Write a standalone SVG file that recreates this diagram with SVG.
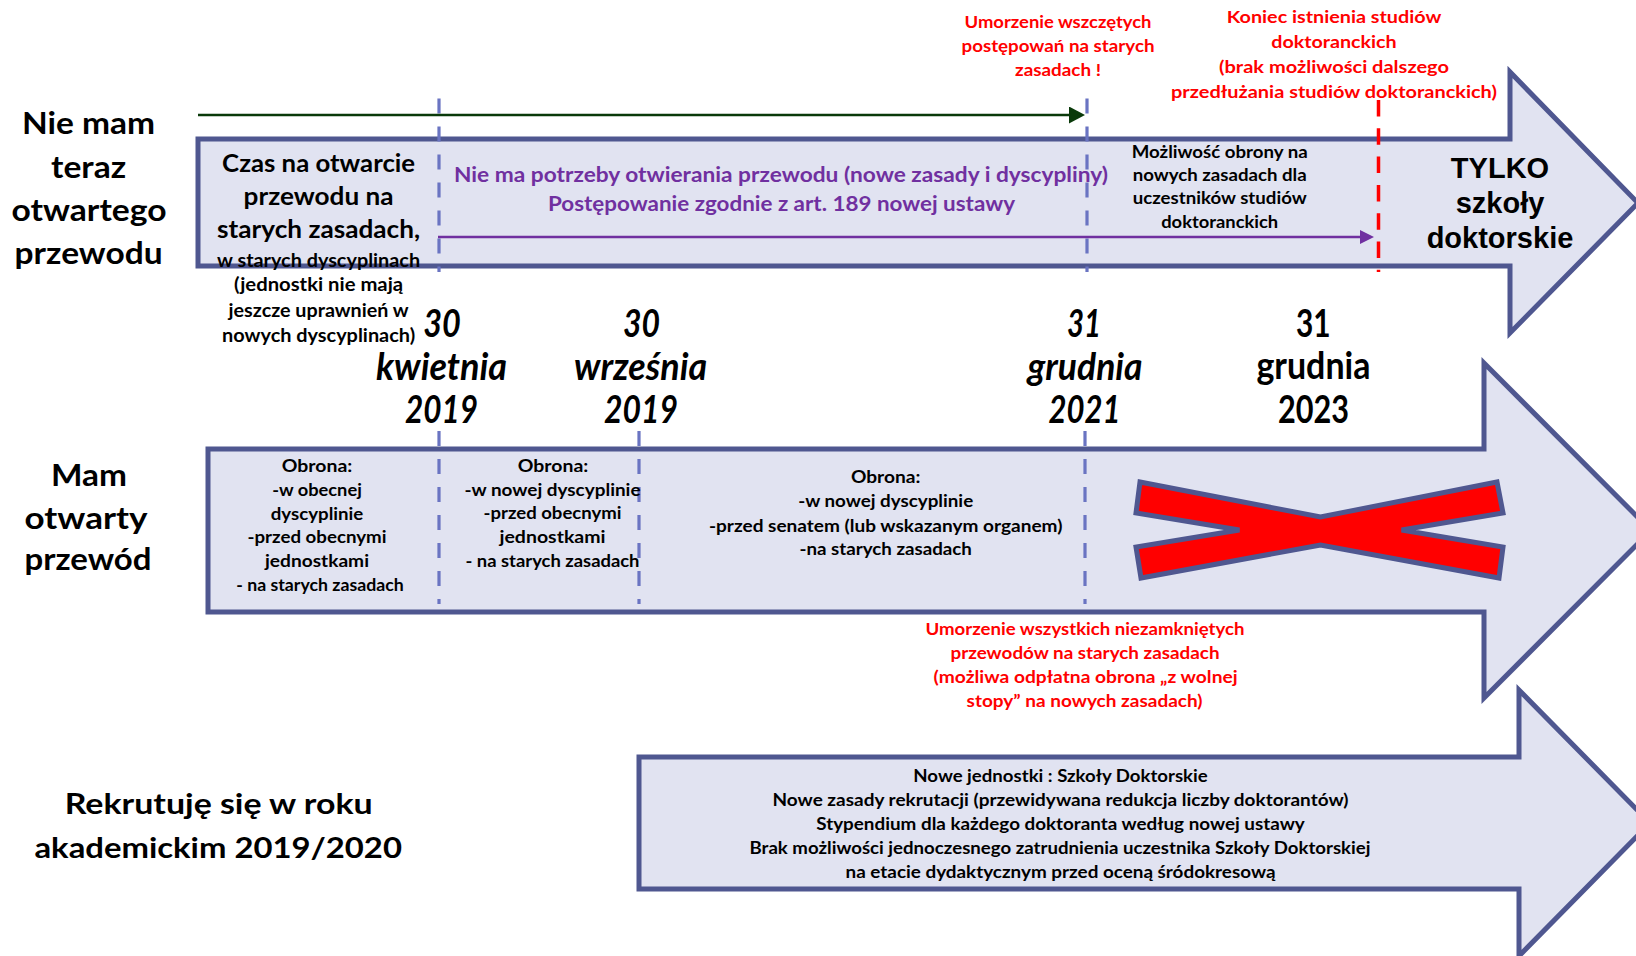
<svg xmlns="http://www.w3.org/2000/svg" width="1636" height="956" viewBox="0 0 1636 956">
<style>
.arrow{fill:#E1E3F1;stroke:#4F5790;stroke-width:5;stroke-linejoin:miter}
.dash{stroke:#6A74C2;stroke-width:3.2;stroke-dasharray:15 13;fill:none}
.rdash{stroke:#FF0000;stroke-width:3.5;stroke-dasharray:16.5 11.8;fill:none}
.t{font-family:Lato,"Open Sans","Liberation Sans",sans-serif;font-weight:700;text-anchor:middle;fill:#000}
.lbl{font-size:31px}
.czas{font-size:24px}
.sm{font-size:19px}
.pur{font-size:20px;fill:#7030A0}
.mo{font-size:16.5px}
.red{font-size:17.5px;fill:#FF0000}
.date{font-size:38px}
.it{font-style:italic}
.ob{font-size:16.5px}
.tylko{font-family:"Liberation Sans",Arial,sans-serif;font-weight:700;font-size:29px;text-anchor:middle;fill:#000}
</style>
<defs>
<marker id="mGreen" markerUnits="userSpaceOnUse" markerWidth="16" markerHeight="17" refX="6" refY="8.5" orient="auto"><path d="M0,0 L16,8.5 L0,17 Z" fill="#0A3A0A"/></marker>
<marker id="mPurple" markerUnits="userSpaceOnUse" markerWidth="14" markerHeight="14" refX="4" refY="7" orient="auto"><path d="M0,0 L14,7 L0,14 Z" fill="#7030A0"/></marker>
</defs>

<g id="arrow-row1">
<path class="arrow" d="M198,139 H1510 V72 L1638,203 L1510,333 V266 H198 Z"/>
</g>
<g id="arrow-row2">
<path class="arrow" d="M208,449 H1484 V363 L1651,530.5 L1484,698 V612 H208 Z"/>
</g>
<g id="arrow-row3">
<path class="arrow" d="M639,757 H1519 V690 L1650,823 L1519,956 V889 H639 Z"/>
</g>

<g id="timeline-markers">
<line class="dash" x1="439" y1="98.5" x2="439" y2="272"/>
<line class="dash" x1="1087" y1="98.5" x2="1087" y2="272"/>
<line class="rdash" x1="1378.5" y1="100" x2="1378.5" y2="272"/>
<line class="dash" x1="439" y1="431" x2="439" y2="604"/>
<line class="dash" x1="639" y1="431" x2="639" y2="604"/>
<line class="dash" x1="1085" y1="431" x2="1085" y2="604"/>
</g>

<g id="connectors">
<line x1="198" y1="115" x2="1075" y2="115" stroke="#0A3A0A" stroke-width="2.6" marker-end="url(#mGreen)"/>
<line x1="438" y1="237" x2="1364" y2="237" stroke="#7030A0" stroke-width="2.6" marker-end="url(#mPurple)"/>
</g>

<g id="cross">
<polygon points="1140,482 1320.5,517 1497,482 1503,513 1401.6,530 1503,547 1499,578 1320.5,545 1141,578 1136,547 1239.4,530 1136,513" fill="#FF0000" stroke="#4F5790" stroke-width="5" stroke-linejoin="miter"/>
</g>

<g id="label-nie-mam">
<text class="t lbl" x="88.6" y="134" textLength="133" lengthAdjust="spacingAndGlyphs">Nie mam</text>
<text class="t lbl" x="88.6" y="177.5" textLength="75" lengthAdjust="spacingAndGlyphs">teraz</text>
<text class="t lbl" x="89" y="221" textLength="155" lengthAdjust="spacingAndGlyphs">otwartego</text>
<text class="t lbl" x="88.6" y="264" textLength="148" lengthAdjust="spacingAndGlyphs">przewodu</text>
</g>

<g id="czas-na-otwarcie">
<text class="t czas" x="318.6" y="172" textLength="193" lengthAdjust="spacingAndGlyphs">Czas na otwarcie</text>
<text class="t czas" x="318.6" y="205" textLength="150" lengthAdjust="spacingAndGlyphs">przewodu na</text>
<text class="t czas" x="318.6" y="238" textLength="203" lengthAdjust="spacingAndGlyphs">starych zasadach,</text>
<text class="t sm" x="318.6" y="267" textLength="203" lengthAdjust="spacingAndGlyphs">w starych dyscyplinach</text>
<text class="t sm" x="318.6" y="291" textLength="169" lengthAdjust="spacingAndGlyphs">(jednostki nie mają</text>
<text class="t sm" x="318.6" y="317" textLength="180" lengthAdjust="spacingAndGlyphs">jeszcze uprawnień w</text>
<text class="t sm" x="318.6" y="342" textLength="193" lengthAdjust="spacingAndGlyphs">nowych dyscyplinach)</text>
</g>

<g id="nie-ma-potrzeby">
<text class="t pur" x="781" y="182" textLength="654" lengthAdjust="spacingAndGlyphs">Nie ma potrzeby otwierania przewodu (nowe zasady i dyscypliny)</text>
<text class="t pur" x="781.5" y="211" textLength="467" lengthAdjust="spacingAndGlyphs">Postępowanie zgodnie z art. 189 nowej ustawy</text>
</g>

<g id="mozliwosc-obrony">
<text class="t mo" x="1219.7" y="157.5" textLength="176" lengthAdjust="spacingAndGlyphs">Możliwość obrony na</text>
<text class="t mo" x="1219.7" y="180.5" textLength="174" lengthAdjust="spacingAndGlyphs">nowych zasadach dla</text>
<text class="t mo" x="1219.7" y="203.5" textLength="174" lengthAdjust="spacingAndGlyphs">uczestników studiów</text>
<text class="t mo" x="1219.7" y="227.5" textLength="117" lengthAdjust="spacingAndGlyphs">doktoranckich</text>
</g>

<g id="tylko-szkoly">
<text class="tylko" x="1500" y="178">TYLKO</text>
<text class="tylko" x="1500" y="213">szkoły</text>
<text class="tylko" x="1500" y="248">doktorskie</text>
</g>

<g id="umorzenie-wszczetych">
<text class="t red" x="1058" y="28" textLength="187" lengthAdjust="spacingAndGlyphs">Umorzenie wszczętych</text>
<text class="t red" x="1058" y="52" textLength="193" lengthAdjust="spacingAndGlyphs">postępowań na starych</text>
<text class="t red" x="1058" y="76" textLength="86" lengthAdjust="spacingAndGlyphs">zasadach !</text>
</g>

<g id="koniec-istnienia">
<text class="t red" x="1334" y="23" textLength="214.5" lengthAdjust="spacingAndGlyphs">Koniec istnienia studiów</text>
<text class="t red" x="1334" y="48" textLength="125.4" lengthAdjust="spacingAndGlyphs">doktoranckich</text>
<text class="t red" x="1334" y="73" textLength="230" lengthAdjust="spacingAndGlyphs">(brak możliwości dalszego</text>
<text class="t red" x="1334" y="98" textLength="326" lengthAdjust="spacingAndGlyphs">przedłużania studiów doktoranckich)</text>
</g>

<g id="date-2019-04">
<text class="t date it" x="442" y="337" textLength="37.6" lengthAdjust="spacingAndGlyphs">30</text>
<text class="t date it" x="441.6" y="380" textLength="131" lengthAdjust="spacingAndGlyphs">kwietnia</text>
<text class="t date it" x="441.6" y="423" textLength="73" lengthAdjust="spacingAndGlyphs">2019</text>
</g>
<g id="date-2019-09">
<text class="t date it" x="641.6" y="337" textLength="37" lengthAdjust="spacingAndGlyphs">30</text>
<text class="t date it" x="640.6" y="380" textLength="133" lengthAdjust="spacingAndGlyphs">września</text>
<text class="t date it" x="641" y="423" textLength="74" lengthAdjust="spacingAndGlyphs">2019</text>
</g>
<g id="date-2021-12">
<text class="t date it" x="1084" y="337" textLength="34" lengthAdjust="spacingAndGlyphs">31</text>
<text class="t date it" x="1085" y="380" textLength="115" lengthAdjust="spacingAndGlyphs">grudnia</text>
<text class="t date it" x="1084.6" y="423" textLength="72" lengthAdjust="spacingAndGlyphs">2021</text>
</g>
<g id="date-2023-12">
<text class="t date" x="1313.3" y="337" textLength="34.6" lengthAdjust="spacingAndGlyphs">31</text>
<text class="t date" x="1313.4" y="379" textLength="114" lengthAdjust="spacingAndGlyphs">grudnia</text>
<text class="t date" x="1313.6" y="423" textLength="71" lengthAdjust="spacingAndGlyphs">2023</text>
</g>

<g id="label-mam">
<text class="t lbl" x="89" y="486" textLength="76" lengthAdjust="spacingAndGlyphs">Mam</text>
<text class="t lbl" x="86" y="529" textLength="123" lengthAdjust="spacingAndGlyphs">otwarty</text>
<text class="t lbl" x="88" y="570" textLength="127" lengthAdjust="spacingAndGlyphs">przewód</text>
</g>

<g id="obrona-1">
<text class="t ob" x="317" y="472" textLength="70.5" lengthAdjust="spacingAndGlyphs">Obrona:</text>
<text class="t ob" x="317" y="495.5" textLength="89.6" lengthAdjust="spacingAndGlyphs">-w obecnej</text>
<text class="t ob" x="317" y="519.5" textLength="92.6" lengthAdjust="spacingAndGlyphs">dyscyplinie</text>
<text class="t ob" x="317" y="543" textLength="139" lengthAdjust="spacingAndGlyphs">-przed obecnymi</text>
<text class="t ob" x="317" y="567" textLength="104" lengthAdjust="spacingAndGlyphs">jednostkami</text>
<text class="t ob" x="320" y="590.5" textLength="167.4" lengthAdjust="spacingAndGlyphs">- na starych zasadach</text>
</g>

<g id="obrona-2">
<text class="t ob" x="553" y="472" textLength="70.5" lengthAdjust="spacingAndGlyphs">Obrona:</text>
<text class="t ob" x="552.5" y="495.5" textLength="176" lengthAdjust="spacingAndGlyphs">-w nowej dyscyplinie</text>
<text class="t ob" x="552.5" y="519" textLength="138" lengthAdjust="spacingAndGlyphs">-przed obecnymi</text>
<text class="t ob" x="552.5" y="543" textLength="106" lengthAdjust="spacingAndGlyphs">jednostkami</text>
<text class="t ob" x="552.5" y="567" textLength="174" lengthAdjust="spacingAndGlyphs">- na starych zasadach</text>
</g>

<g id="obrona-3">
<text class="t ob" x="885.7" y="483" textLength="69.5" lengthAdjust="spacingAndGlyphs">Obrona:</text>
<text class="t ob" x="885.7" y="507" textLength="175" lengthAdjust="spacingAndGlyphs">-w nowej dyscyplinie</text>
<text class="t ob" x="885.7" y="531.5" textLength="353.5" lengthAdjust="spacingAndGlyphs">-przed senatem (lub wskazanym organem)</text>
<text class="t ob" x="885.7" y="555" textLength="172.5" lengthAdjust="spacingAndGlyphs">-na starych zasadach</text>
</g>

<g id="umorzenie-wszystkich">
<text class="t red" x="1085" y="635" textLength="319" lengthAdjust="spacingAndGlyphs">Umorzenie wszystkich niezamkniętych</text>
<text class="t red" x="1085" y="659" textLength="269" lengthAdjust="spacingAndGlyphs">przewodów na starych zasadach</text>
<text class="t red" x="1085.6" y="683" textLength="304" lengthAdjust="spacingAndGlyphs">(możliwa odpłatna obrona „z wolnej</text>
<text class="t red" x="1084.6" y="707" textLength="236" lengthAdjust="spacingAndGlyphs">stopy” na nowych zasadach)</text>
</g>

<g id="label-rekrutuje">
<text class="t" style="font-size:29px" x="218.7" y="814" textLength="308" lengthAdjust="spacingAndGlyphs">Rekrutuję się w roku</text>
<text class="t" style="font-size:29px" x="218.2" y="858" textLength="367.5" lengthAdjust="spacingAndGlyphs">akademickim 2019/2020</text>
</g>

<g id="szkoly-doktorskie">
<text class="t ob" x="1060.5" y="782" textLength="294.4" lengthAdjust="spacingAndGlyphs">Nowe jednostki : Szkoły Doktorskie</text>
<text class="t ob" x="1060.5" y="806" textLength="576" lengthAdjust="spacingAndGlyphs">Nowe zasady rekrutacji (przewidywana redukcja liczby doktorantów)</text>
<text class="t ob" x="1060.5" y="830" textLength="488.5" lengthAdjust="spacingAndGlyphs">Stypendium dla każdego doktoranta według nowej ustawy</text>
<text class="t ob" x="1060" y="854" textLength="621" lengthAdjust="spacingAndGlyphs">Brak możliwości jednoczesnego zatrudnienia uczestnika Szkoły Doktorskiej</text>
<text class="t ob" x="1060.5" y="878" textLength="430" lengthAdjust="spacingAndGlyphs">na etacie dydaktycznym przed oceną śródokresową</text>
</g>
</svg>
